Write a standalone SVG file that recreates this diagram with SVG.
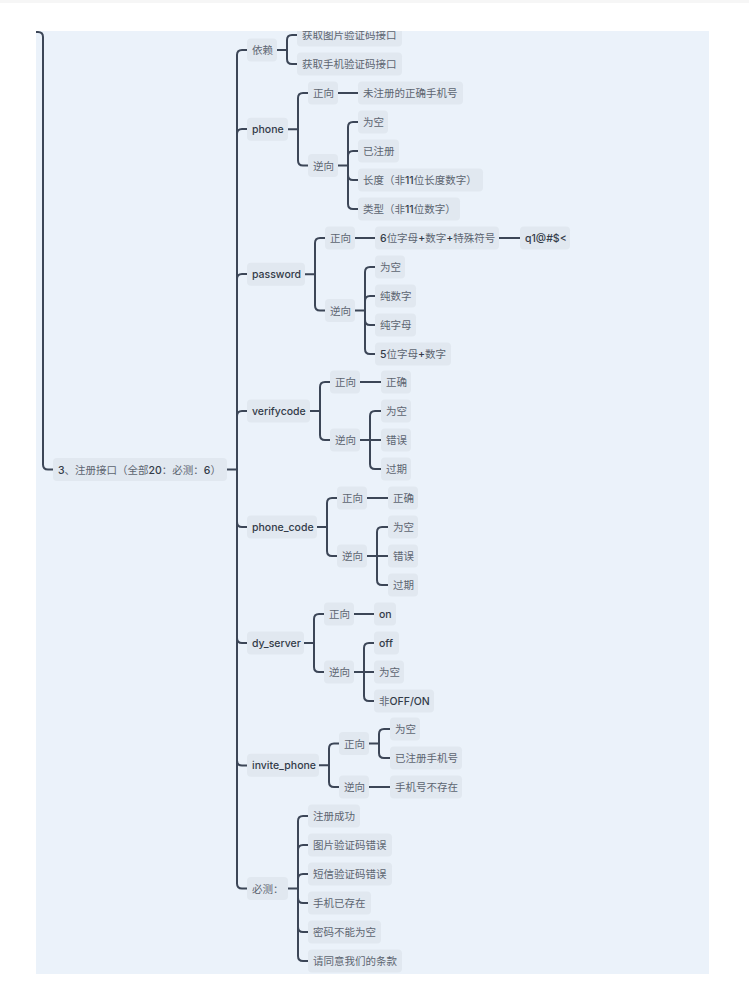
<svg xmlns="http://www.w3.org/2000/svg" width="749" height="988" viewBox="0 0 749 988">
<style>
.bg{fill:#ebf2fa}
.n{fill:#e1e8f0}
.t{font-family:Inter,"Noto Sans CJK SC","Noto Sans",sans-serif;font-size:10.5px;fill:#5d6571}
.l{fill:#333b48;font-weight:500}
.c{fill:none;stroke:#3c4657;stroke-width:2;stroke-linecap:round;stroke-linejoin:round}
</style>
<defs>
<clipPath id="panel"><rect x="36" y="31" width="673" height="943"/></clipPath>
</defs>
<rect x="0" y="0" width="749" height="988" fill="#ffffff"/>
<rect x="0" y="0" width="749" height="3" fill="#f6f6f6"/>
<rect class="bg" x="36" y="31" width="673" height="943"/>
<g clip-path="url(#panel)">
<g id="connectors" class="c">
<path d="M36,32 H38 Q43,32 43,37 V464.5 Q43,469.5 48,469.5 H53"/>
<path d="M227,469.5 H237"/>
<path d="M237,469.5 V55 Q237,50 242,50 H247"/>
<path d="M237,469.5 V134 Q237,129 242,129 H247"/>
<path d="M237,469.5 V279 Q237,274 242,274 H247"/>
<path d="M237,469.5 V416 Q237,411 242,411 H247"/>
<path d="M237,469.5 V522 Q237,527 242,527 H247"/>
<path d="M237,469.5 V638 Q237,643 242,643 H247"/>
<path d="M237,469.5 V760.5 Q237,765.5 242,765.5 H247"/>
<path d="M237,469.5 V883.5 Q237,888.5 242,888.5 H247"/>
<path d="M277,50 H287"/>
<path d="M287,50 V40 Q287,35 292,35 H297"/>
<path d="M287,50 V59 Q287,64 292,64 H297"/>
<path d="M288,129.25 H298"/>
<path d="M298,129.25 V98 Q298,93 303,93 H308"/>
<path d="M298,129.25 V160.5 Q298,165.5 303,165.5 H308"/>
<path d="M338,93 H358"/>
<path d="M338,165.5 H348"/>
<path d="M348,165.5 V127 Q348,122 353,122 H358"/>
<path d="M348,165.5 V156 Q348,151 353,151 H358"/>
<path d="M348,165.5 V175 Q348,180 353,180 H358"/>
<path d="M348,165.5 V204 Q348,209 353,209 H358"/>
<path d="M305,274.25 H315"/>
<path d="M315,274.25 V243 Q315,238 320,238 H325"/>
<path d="M315,274.25 V305.5 Q315,310.5 320,310.5 H325"/>
<path d="M355,238 H375"/>
<path d="M499,238 H520"/>
<path d="M355,310.5 H365"/>
<path d="M365,310.5 V272 Q365,267 370,267 H375"/>
<path d="M365,310.5 V301 Q365,296 370,296 H375"/>
<path d="M365,310.5 V320 Q365,325 370,325 H375"/>
<path d="M365,310.5 V349 Q365,354 370,354 H375"/>
<path d="M310,411 H320"/>
<path d="M320,411 V387 Q320,382 325,382 H330"/>
<path d="M320,411 V435 Q320,440 325,440 H330"/>
<path d="M360,382 H381"/>
<path d="M360,440 H381"/>
<path d="M370,440 V416 Q370,411 375,411 H381"/>
<path d="M370,440 V464 Q370,469 375,469 H381"/>
<path d="M317,527 H327"/>
<path d="M327,527 V503 Q327,498 332,498 H337"/>
<path d="M327,527 V551 Q327,556 332,556 H337"/>
<path d="M367,498 H388"/>
<path d="M367,556 H388"/>
<path d="M377,556 V532 Q377,527 382,527 H388"/>
<path d="M377,556 V580 Q377,585 382,585 H388"/>
<path d="M304,643 H314"/>
<path d="M314,643 V619 Q314,614 319,614 H324"/>
<path d="M314,643 V667 Q314,672 319,672 H324"/>
<path d="M354,614 H374"/>
<path d="M354,672 H374"/>
<path d="M364,672 V648 Q364,643 369,643 H374"/>
<path d="M364,672 V696 Q364,701 369,701 H374"/>
<path d="M319,765.25 H329"/>
<path d="M329,765.25 V748.5 Q329,743.5 334,743.5 H339"/>
<path d="M329,765.25 V782 Q329,787 334,787 H339"/>
<path d="M369,743.5 H379"/>
<path d="M379,743.5 V734 Q379,729 384,729 H390"/>
<path d="M379,743.5 V753 Q379,758 384,758 H390"/>
<path d="M369,787 H390"/>
<path d="M288,888.5 H298"/>
<path d="M298,888.5 V821 Q298,816 303,816 H308"/>
<path d="M298,888.5 V850 Q298,845 303,845 H308"/>
<path d="M298,888.5 V879 Q298,874 303,874 H308"/>
<path d="M298,888.5 V898 Q298,903 303,903 H308"/>
<path d="M298,888.5 V927 Q298,932 303,932 H308"/>
<path d="M298,888.5 V956 Q298,961 303,961 H308"/>
</g>

<g id="root"><rect class="n" x="53" y="458" width="174" height="23" rx="4"/><text class="t" x="58" y="473.5"><tspan class="l">3</tspan>、注册接口（全部<tspan class="l">20</tspan>：必测：<tspan class="l">6</tspan>）</text></g>

<g id="yilai"><rect class="n" x="247" y="38.5" width="30" height="23" rx="4"/><text class="t" x="252" y="54">依赖</text></g>
<g id="yilai-1"><rect class="n" x="297" y="23.5" width="105" height="23" rx="4"/><text class="t" x="302" y="39">获取图片验证码接口</text></g>
<g id="yilai-2"><rect class="n" x="297" y="52.5" width="105" height="23" rx="4"/><text class="t" x="302" y="68">获取手机验证码接口</text></g>

<g id="phone"><rect class="n" x="247" y="117.75" width="41" height="23" rx="4"/><text class="t l" x="252" y="133.25">phone</text></g>
<g id="phone-pos"><rect class="n" x="308" y="81.5" width="30" height="23" rx="4"/><text class="t" x="313" y="97">正向</text></g>
<g id="phone-pos-1"><rect class="n" x="358" y="81.5" width="105" height="23" rx="4"/><text class="t" x="363" y="97">未注册的正确手机号</text></g>
<g id="phone-neg"><rect class="n" x="308" y="154" width="30" height="23" rx="4"/><text class="t" x="313" y="169.5">逆向</text></g>
<g id="phone-neg-1"><rect class="n" x="358" y="110.5" width="30" height="23" rx="4"/><text class="t" x="363" y="126">为空</text></g>
<g id="phone-neg-2"><rect class="n" x="358" y="139.5" width="41" height="23" rx="4"/><text class="t" x="363" y="155">已注册</text></g>
<g id="phone-neg-3"><rect class="n" x="358" y="168.5" width="125" height="23" rx="4"/><text class="t" x="363" y="184">长度（非<tspan class="l">11</tspan>位长度数字）</text></g>
<g id="phone-neg-4"><rect class="n" x="358" y="197.5" width="102" height="23" rx="4"/><text class="t" x="363" y="213">类型（非<tspan class="l">11</tspan>位数字）</text></g>

<g id="password"><rect class="n" x="247" y="262.75" width="58" height="23" rx="4"/><text class="t l" x="252" y="278.25">password</text></g>
<g id="pw-pos"><rect class="n" x="325" y="226.5" width="30" height="23" rx="4"/><text class="t" x="330" y="242">正向</text></g>
<g id="pw-pos-1"><rect class="n" x="375" y="226.5" width="124" height="23" rx="4"/><text class="t" x="380" y="242"><tspan class="l">6</tspan>位字母<tspan class="l">+</tspan>数字<tspan class="l">+</tspan>特殊符号</text></g>
<g id="pw-pos-2"><rect class="n" x="520" y="226.5" width="50" height="23" rx="4"/><text class="t l" x="525" y="242">q1@#$&lt;</text></g>
<g id="pw-neg"><rect class="n" x="325" y="299" width="30" height="23" rx="4"/><text class="t" x="330" y="314.5">逆向</text></g>
<g id="pw-neg-1"><rect class="n" x="375" y="255.5" width="30" height="23" rx="4"/><text class="t" x="380" y="271">为空</text></g>
<g id="pw-neg-2"><rect class="n" x="375" y="284.5" width="41" height="23" rx="4"/><text class="t" x="380" y="300">纯数字</text></g>
<g id="pw-neg-3"><rect class="n" x="375" y="313.5" width="41" height="23" rx="4"/><text class="t" x="380" y="329">纯字母</text></g>
<g id="pw-neg-4"><rect class="n" x="375" y="342.5" width="76" height="23" rx="4"/><text class="t" x="380" y="358"><tspan class="l">5</tspan>位字母<tspan class="l">+</tspan>数字</text></g>

<g id="verifycode"><rect class="n" x="247" y="399.5" width="63" height="23" rx="4"/><text class="t l" x="252" y="415">verifycode</text></g>
<g id="vc-pos"><rect class="n" x="330" y="370.5" width="30" height="23" rx="4"/><text class="t" x="335" y="386">正向</text></g>
<g id="vc-pos-1"><rect class="n" x="381" y="370.5" width="30" height="23" rx="4"/><text class="t" x="386" y="386">正确</text></g>
<g id="vc-neg"><rect class="n" x="330" y="428.5" width="30" height="23" rx="4"/><text class="t" x="335" y="444">逆向</text></g>
<g id="vc-neg-1"><rect class="n" x="381" y="399.5" width="30" height="23" rx="4"/><text class="t" x="386" y="415">为空</text></g>
<g id="vc-neg-2"><rect class="n" x="381" y="428.5" width="30" height="23" rx="4"/><text class="t" x="386" y="444">错误</text></g>
<g id="vc-neg-3"><rect class="n" x="381" y="457.5" width="30" height="23" rx="4"/><text class="t" x="386" y="473">过期</text></g>

<g id="phone_code"><rect class="n" x="247" y="515.5" width="70" height="23" rx="4"/><text class="t l" x="252" y="531">phone_code</text></g>
<g id="pc-pos"><rect class="n" x="337" y="486.5" width="30" height="23" rx="4"/><text class="t" x="342" y="502">正向</text></g>
<g id="pc-pos-1"><rect class="n" x="388" y="486.5" width="30" height="23" rx="4"/><text class="t" x="393" y="502">正确</text></g>
<g id="pc-neg"><rect class="n" x="337" y="544.5" width="30" height="23" rx="4"/><text class="t" x="342" y="560">逆向</text></g>
<g id="pc-neg-1"><rect class="n" x="388" y="515.5" width="30" height="23" rx="4"/><text class="t" x="393" y="531">为空</text></g>
<g id="pc-neg-2"><rect class="n" x="388" y="544.5" width="30" height="23" rx="4"/><text class="t" x="393" y="560">错误</text></g>
<g id="pc-neg-3"><rect class="n" x="388" y="573.5" width="30" height="23" rx="4"/><text class="t" x="393" y="589">过期</text></g>

<g id="dy_server"><rect class="n" x="247" y="631.5" width="57" height="23" rx="4"/><text class="t l" x="252" y="647">dy_server</text></g>
<g id="dy-pos"><rect class="n" x="324" y="602.5" width="30" height="23" rx="4"/><text class="t" x="329" y="618">正向</text></g>
<g id="dy-pos-1"><rect class="n" x="374" y="602.5" width="22" height="23" rx="4"/><text class="t l" x="379" y="618">on</text></g>
<g id="dy-neg"><rect class="n" x="324" y="660.5" width="30" height="23" rx="4"/><text class="t" x="329" y="676">逆向</text></g>
<g id="dy-neg-1"><rect class="n" x="374" y="631.5" width="25" height="23" rx="4"/><text class="t l" x="379" y="647">off</text></g>
<g id="dy-neg-2"><rect class="n" x="374" y="660.5" width="30" height="23" rx="4"/><text class="t" x="379" y="676">为空</text></g>
<g id="dy-neg-3"><rect class="n" x="374" y="689.5" width="60" height="23" rx="4"/><text class="t" x="379" y="705">非<tspan class="l">OFF/ON</tspan></text></g>

<g id="invite_phone"><rect class="n" x="247" y="753.75" width="72" height="23" rx="4"/><text class="t l" x="252" y="769.25">invite_phone</text></g>
<g id="ip-pos"><rect class="n" x="339" y="732" width="30" height="23" rx="4"/><text class="t" x="344" y="747.5">正向</text></g>
<g id="ip-pos-1"><rect class="n" x="390" y="717.5" width="30" height="23" rx="4"/><text class="t" x="395" y="733">为空</text></g>
<g id="ip-pos-2"><rect class="n" x="390" y="746.5" width="72" height="23" rx="4"/><text class="t" x="395" y="762">已注册手机号</text></g>
<g id="ip-neg"><rect class="n" x="339" y="775.5" width="30" height="23" rx="4"/><text class="t" x="344" y="791">逆向</text></g>
<g id="ip-neg-1"><rect class="n" x="390" y="775.5" width="72" height="23" rx="4"/><text class="t" x="395" y="791">手机号不存在</text></g>

<g id="bice"><rect class="n" x="247" y="877" width="41" height="23" rx="4"/><text class="t" x="252" y="892.5">必测：</text></g>
<g id="bice-1"><rect class="n" x="308" y="804.5" width="52" height="23" rx="4"/><text class="t" x="313" y="820">注册成功</text></g>
<g id="bice-2"><rect class="n" x="308" y="833.5" width="84" height="23" rx="4"/><text class="t" x="313" y="849">图片验证码错误</text></g>
<g id="bice-3"><rect class="n" x="308" y="862.5" width="84" height="23" rx="4"/><text class="t" x="313" y="878">短信验证码错误</text></g>
<g id="bice-4"><rect class="n" x="308" y="891.5" width="63" height="23" rx="4"/><text class="t" x="313" y="907">手机已存在</text></g>
<g id="bice-5"><rect class="n" x="308" y="920.5" width="73" height="23" rx="4"/><text class="t" x="313" y="936">密码不能为空</text></g>
<g id="bice-6"><rect class="n" x="308" y="949.5" width="94" height="23" rx="4"/><text class="t" x="313" y="965">请同意我们的条款</text></g>
</g>
</svg>
